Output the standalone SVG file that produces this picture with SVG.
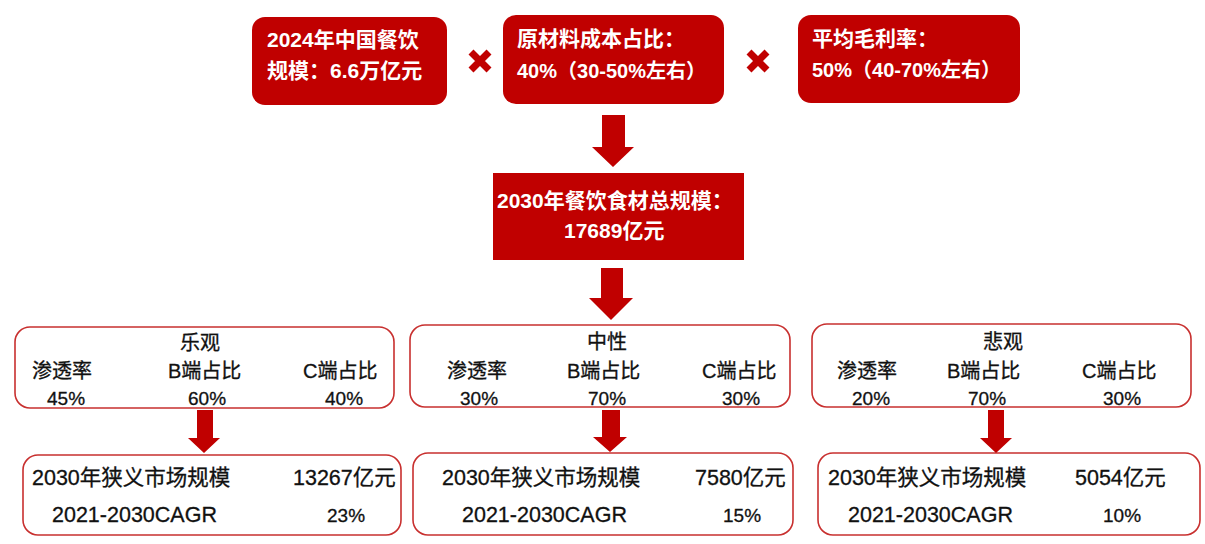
<svg xmlns="http://www.w3.org/2000/svg" width="1205" height="544" viewBox="0 0 1205 544">
<style>
.top{fill:#C00000;}
.wt{fill:#FFFFFF;font-family:"Liberation Sans","Noto Sans CJK SC",sans-serif;font-weight:bold;font-size:21px;}
.wt2{fill:#FFFFFF;font-family:"Liberation Sans","Noto Sans CJK SC",sans-serif;font-weight:bold;font-size:20px;}
.sc{fill:#FFFFFF;stroke:#C8302F;stroke-width:1.6;}
.bk{fill:#111111;stroke:#111111;stroke-width:0.3;font-family:"Liberation Sans","Noto Sans CJK SC",sans-serif;font-size:20px;}
.val{fill:#111111;stroke:#111111;stroke-width:0.3;font-family:"Liberation Sans","Noto Sans CJK SC",sans-serif;font-size:19px;}
.bt{fill:#111111;stroke:#111111;stroke-width:0.3;font-family:"Liberation Sans","Noto Sans CJK SC",sans-serif;font-size:21.5px;}
.arrow{fill:#C00000;}
.xm{stroke:#C00000;stroke-width:7;stroke-linecap:butt;fill:none;}
.mid{text-anchor:middle;}
</style>
<rect width="1205" height="544" fill="#FFFFFF"/>

<g id="node-restaurant-scale">
<rect class="top" x="252" y="17" width="195" height="88" rx="13"/>
<text class="wt" x="267" y="47">2024年中国餐饮</text>
<text class="wt" x="267" y="78">规模：6.6万亿元</text>
</g>
<g id="node-material-cost">
<rect class="top" x="503" y="15" width="221" height="89" rx="13"/>
<text class="wt" x="517" y="46">原材料成本占比：</text>
<text class="wt2" x="517" y="78">40%（30-50%左右）</text>
</g>
<g id="node-gross-margin">
<rect class="top" x="798" y="15" width="222" height="88" rx="13"/>
<text class="wt" x="812" y="46">平均毛利率：</text>
<text class="wt2" x="812" y="77">50%（40-70%左右）</text>
</g>

<g id="node-total">
<rect class="top" x="493" y="173" width="251" height="87"/>
<text class="wt" x="497" y="208">2030年餐饮食材总规模：</text>
<text class="wt" x="564" y="238">17689亿元</text>
</g>

<g id="node-optimistic">
<rect class="sc" x="15" y="327" width="379" height="81" rx="15"/>
<text class="bk mid" x="200" y="350">乐观</text>
<text class="bk" x="32" y="378">渗透率</text>
<text class="bk" x="168" y="378">B端占比</text>
<text class="bk" x="303" y="378">C端占比</text>
<text class="val" x="47" y="405">45%</text>
<text class="val" x="188" y="405">60%</text>
<text class="val" x="325" y="405">40%</text>
</g>
<g id="node-neutral">
<rect class="sc" x="410" y="325" width="380" height="82" rx="15"/>
<text class="bk mid" x="607" y="349">中性</text>
<text class="bk" x="447" y="378">渗透率</text>
<text class="bk" x="567" y="378">B端占比</text>
<text class="bk" x="702" y="378">C端占比</text>
<text class="val" x="460" y="405">30%</text>
<text class="val" x="588" y="405">70%</text>
<text class="val" x="722" y="405">30%</text>
</g>
<g id="node-pessimistic">
<rect class="sc" x="812" y="324" width="379" height="83" rx="15"/>
<text class="bk mid" x="1003" y="349">悲观</text>
<text class="bk" x="837" y="378">渗透率</text>
<text class="bk" x="947" y="378">B端占比</text>
<text class="bk" x="1082" y="378">C端占比</text>
<text class="val" x="852" y="405">20%</text>
<text class="val" x="968" y="405">70%</text>
<text class="val" x="1103" y="405">30%</text>
</g>

<g id="node-result-optimistic">
<rect class="sc" x="23" y="455" width="378" height="80" rx="15"/>
<text class="bt" x="32" y="485">2030年狭义市场规模</text>
<text class="bt" x="293" y="485">13267亿元</text>
<text class="bt" x="52" y="522">2021-2030CAGR</text>
<text class="val" x="327" y="522">23%</text>
</g>
<g id="node-result-neutral">
<rect class="sc" x="413" y="453" width="380" height="82" rx="15"/>
<text class="bt" x="442" y="485">2030年狭义市场规模</text>
<text class="bt" x="695" y="485">7580亿元</text>
<text class="bt" x="462" y="522">2021-2030CAGR</text>
<text class="val" x="723" y="522">15%</text>
</g>
<g id="node-result-pessimistic">
<rect class="sc" x="818" y="453" width="382" height="82" rx="15"/>
<text class="bt" x="828" y="485">2030年狭义市场规模</text>
<text class="bt" x="1075" y="485">5054亿元</text>
<text class="bt" x="848" y="522">2021-2030CAGR</text>
<text class="val" x="1103" y="522">10%</text>
</g>

<g id="connectors">
<path class="xm" d="M471 52 L489 70 M489 52 L471 70"/>
<path class="xm" d="M749 52 L767 70 M767 52 L749 70"/>
<polygon class="arrow" points="602,115 625,115 625,147 634,147 613,167 592,147 602,147"/>
<polygon class="arrow" points="601,268 623,268 623,298 633,298 611,320 589,298 601,298"/>
<polygon class="arrow" points="197,410 213,410 213,438 220,438 204,453 188,438 197,438"/>
<polygon class="arrow" points="602,410 620,410 620,437 627,437 610,452 593,437 602,437"/>
<polygon class="arrow" points="988,410 1004,410 1004,438 1012,438 996,453 980,438 988,438"/>
</g>
</svg>
